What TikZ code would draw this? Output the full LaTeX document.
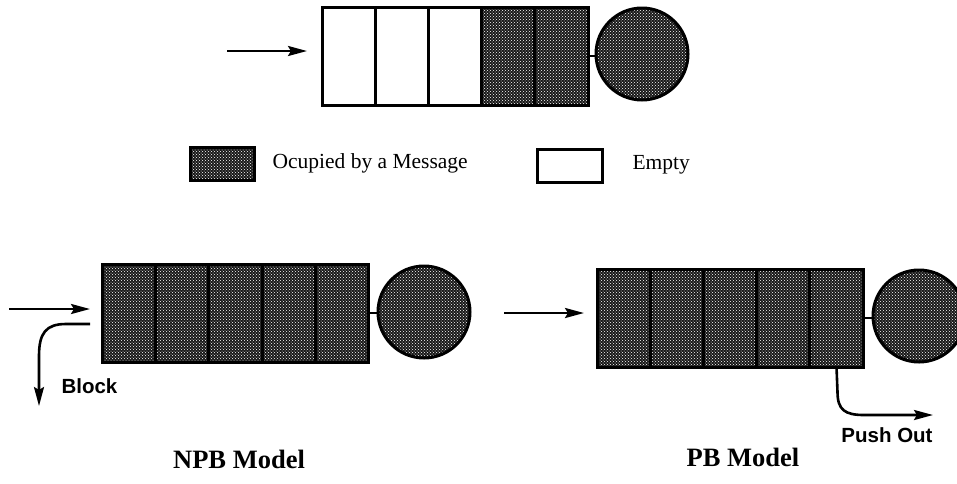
\documentclass[tikz,border=0pt]{standalone}
\usepackage{fontspec}
\setmainfont{Liberation Serif}
\newfontfamily\labelfont{Liberation Sans}
\usetikzlibrary{arrows.meta,patterns}
\begin{document}
\begin{tikzpicture}[x=1pt,y=-1pt,
  cell/.style={draw, line width=3pt, minimum width=53.2pt, minimum height=98pt, inner sep=0pt, outer sep=0pt},
  shade/.style={preaction={fill=black!90}, pattern=crosshatch dots, pattern color=white},
  full/.style={cell, shade},
  empty/.style={cell, fill=white},
  server/.style={circle, draw, line width=3pt, minimum size=92pt, inner sep=0pt, outer sep=0pt, shade},
  conn/.style={line width=2.4pt},
  arr/.style={line width=2.6pt, -{Stealth[length=19pt,width=10pt,inset=3pt]}},
  legtext/.style={anchor=west, font=\fontsize{21.5}{25}\selectfont},
  title/.style={font=\fontsize{26.5}{30}\selectfont\bfseries},
  lbl/.style={font=\labelfont\bfseries\fontsize{20.5}{24}\selectfont}]
\useasboundingbox (0,0) rectangle (957,483);

% ---- top queue ----
\foreach \i/\k in {1/empty,2/empty,3/empty,4/full,5/full}
  \node[\k] (t\i) at ({322+53.2*(\i-0.5)},56) {};
\node[server] (ts) at (642,54) {};
\draw[conn] (t5.east) -- (t5.east -| ts.west);
\coordinate (tin) at (227,51);
\coordinate (tinend) at (307,51);
\draw[arr] (tin) -- (tinend);

% ---- legend ----
\node[full, minimum width=64pt, minimum height=33pt] (lf) at (222,163.5) {};
\node[legtext] (lft) at (269,163) {Ocupied by a Message};
\node[empty, minimum width=65pt, minimum height=33pt] (le) at (569.5,165.5) {};
\node[legtext] (let) at (629,165) {Empty};

% ---- NPB model ----
\foreach \i in {1,...,5}
  \node[full] (n\i) at ({102+53.4*(\i-0.5)},313) {};
\node[server] (ns) at (424,312) {};
\draw[conn] (n5.east) -- (n5.east -| ns.west);
\coordinate (nin) at (9,309);
\coordinate (ninend) at (90,309);
\draw[arr] (nin) -- (ninend);
\coordinate (nblk) at (90,324);
\coordinate (nblkend) at (39,406);
\draw[arr] (nblk) -- (66,324) .. controls (46,324) and (39,333) .. (39,356) -- (nblkend);
\node[lbl, anchor=west] (blk) at (58,386) {Block};
\node[title] (npb) at (239,459) {NPB Model};

% ---- PB model ----
\foreach \i in {1,...,5}
  \node[full] (p\i) at ({598+53*(\i-0.5)},318) {};
\node[server] (ps) at (919,316) {};
\draw[conn] (p5.east) -- (p5.east -| ps.west);
\coordinate (pin) at (504,313);
\coordinate (pinend) at (584,313);
\draw[arr] (pin) -- (pinend);
\coordinate (pout) at (933,415);
\draw[arr] (p5.south) -- (837.5,392) .. controls (837.5,410) and (845,415) .. (864,415) -- (pout);
\node[lbl] (pol) at (887,435) {Push Out};
\node[title] (pbm) at (743,457) {PB Model};
\end{tikzpicture}
\end{document}
